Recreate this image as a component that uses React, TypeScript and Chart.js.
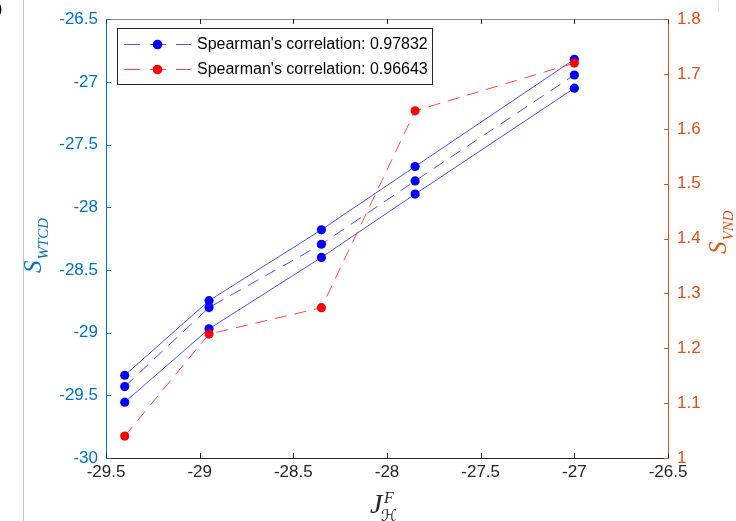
import React, { useEffect, useRef } from "react";
import { Chart, registerables } from "chart.js";

Chart.register(...registerables);

// ---- data ----
const xValues = [-29.4, -28.95, -28.35, -27.85, -27.0];
const wtcdUpper = [-29.34, -28.745, -28.18, -27.675, -26.82];
const wtcdMean = [-29.43, -28.80, -28.295, -27.79, -26.945];
const wtcdLower = [-29.555, -28.97, -28.40, -27.895, -27.05];
const vndValues = [1.04, 1.226, 1.274, 1.633, 1.72];
const legendLabels = ["Spearman's correlation: 0.97832", "Spearman's correlation: 0.96643"];

const xRange = [-29.5, -26.5];
const xStep = 0.5;
const leftRange = [-30, -26.5];
const leftStep = 0.5;
const rightRange = [1, 1.8];
const rightStep = 0.1;

const BLUE_AXIS = "#0072BD";
const ORANGE_AXIS = "#D95319";
const DARK = "#262626";
const SANS = '"Liberation Sans", Arial, Helvetica, sans-serif';
const SERIF = '"Liberation Serif", "Times New Roman", serif';

const toPoints = (ys: number[]) => xValues.map((x, i) => ({ x, y: ys[i] }));
const fmt = (v: any) => String(Number(Number(v).toFixed(3)));

const decorPlugin = {
  id: "decor",
  beforeDraw(chart: any) {
    const ctx = chart.ctx;
    ctx.save();
    ctx.fillStyle = "#ffffff";
    ctx.fillRect(0, 0, chart.width, chart.height);
    ctx.fillStyle = "#c4c4c4";
    ctx.fillRect(23, 0, 1, chart.height);
    ctx.fillStyle = "#e4e4e4";
    ctx.fillRect(718, 0, 1, 12);
    ctx.fillStyle = "#000";
    ctx.font = "16px " + SANS;
    ctx.textBaseline = "alphabetic";
    ctx.fillText(")", -3, 14);
    ctx.restore();
  },
  afterDatasetsDraw(chart: any) {
    const ctx = chart.ctx;
    const { left, right, top, bottom } = chart.chartArea;
    const xs = chart.scales.x;
    const yl = chart.scales.y;
    const yr = chart.scales.y1;
    const L = Math.round(left);
    const R = Math.round(right);
    const T = Math.round(top);
    const B = Math.round(bottom);
    ctx.save();
    // borders
    ctx.fillStyle = DARK;
    ctx.fillRect(L, B, R - L + 1, 1);
    ctx.fillStyle = "#8a8a8a";
    ctx.fillRect(L, T, R - L + 1, 1);
    ctx.fillStyle = BLUE_AXIS;
    ctx.fillRect(L, T, 1, B - T + 1);
    ctx.fillStyle = ORANGE_AXIS;
    ctx.fillRect(R, T, 1, B - T + 1);
    // inward ticks
    const tl = 5;
    ctx.fillStyle = DARK;
    xs.ticks.forEach((t: any) => {
      const px = Math.round(xs.getPixelForValue(t.value));
      ctx.fillRect(px, B - tl, 1, tl);
      ctx.fillRect(px, T, 1, tl);
    });
    ctx.fillStyle = BLUE_AXIS;
    yl.ticks.forEach((t: any) => {
      const py = Math.round(yl.getPixelForValue(t.value));
      ctx.fillRect(L, py, tl, 1);
    });
    ctx.fillStyle = ORANGE_AXIS;
    yr.ticks.forEach((t: any) => {
      const py = Math.round(yr.getPixelForValue(t.value));
      ctx.fillRect(R - tl + 1, py, tl, 1);
    });
    ctx.restore();
  },
  afterDraw(chart: any) {
    const ctx = chart.ctx;
    ctx.save();
    // legend
    const bx = 117, by = 28, bw = 315, bh = 56;
    ctx.fillStyle = "#ffffff";
    ctx.fillRect(bx, by, bw, bh);
    ctx.strokeStyle = DARK;
    ctx.lineWidth = 1;
    ctx.strokeRect(bx + 0.5, by + 0.5, bw, bh);
    const items = chart.data.datasets
      .filter((d: any) => d.legendIndex !== undefined)
      .sort((a: any, b: any) => a.legendIndex - b.legendIndex);
    items.forEach((d: any, i: number) => {
      const cy = 44 + i * 25;
      ctx.strokeStyle = d.borderColor;
      ctx.lineWidth = 1;
      ctx.setLineDash([16, 10]);
      ctx.beginPath();
      ctx.moveTo(124, cy + 0.5);
      ctx.lineTo(191, cy + 0.5);
      ctx.stroke();
      ctx.setLineDash([]);
      ctx.fillStyle = d.pointBackgroundColor;
      ctx.beginPath();
      ctx.arc(157.5, cy + 0.5, 4.8, 0, Math.PI * 2);
      ctx.fill();
      ctx.fillStyle = "#000";
      ctx.font = "16px " + SANS;
      ctx.textBaseline = "middle";
      ctx.textAlign = "left";
      ctx.fillText(d.label, 197, cy + 1);
    });
    // axis titles
    const drawRotated = (x: number, y: number, main: string, sub: string, color: string) => {
      ctx.save();
      ctx.translate(x, y);
      ctx.rotate(-Math.PI / 2);
      ctx.fillStyle = color;
      ctx.textBaseline = "alphabetic";
      ctx.textAlign = "left";
      ctx.font = "italic 25px " + SERIF;
      ctx.fillText(main, 0, 0);
      const w = ctx.measureText(main).width;
      ctx.font = "italic 15px " + SERIF;
      ctx.fillText(sub, w + 1, 7);
      ctx.restore();
    };
    drawRotated(41, 273, "S", "WTCD", BLUE_AXIS);
    drawRotated(726, 254, "S", "VND", ORANGE_AXIS);
    // x title
    ctx.fillStyle = DARK;
    ctx.textBaseline = "alphabetic";
    ctx.textAlign = "left";
    ctx.font = "italic 28px " + SERIF;
    ctx.fillText("J", 370, 513);
    ctx.font = "italic 16px " + SERIF;
    ctx.fillText("F", 384, 503);
    ctx.font = 'italic 16px "DejaVu Serif", "DejaVu Sans", serif';
    ctx.fillText("\u210B", 381, 521);
    ctx.restore();
  },
};

export default function App() {
  const canvasRef = useRef<HTMLCanvasElement | null>(null);

  useEffect(() => {
    if (!canvasRef.current) return;
    const lineBlue = "rgba(50,50,255,0.85)";
    const lineRed = "rgba(255,40,40,0.85)";
    const base = {
      showLine: true,
      borderWidth: 1,
      pointRadius: 4.6,
      pointHoverRadius: 4.6,
      pointBorderWidth: 0,
      fill: false,
      tension: 0,
    };
    const chart = new Chart(canvasRef.current, {
      type: "line",
      data: {
        datasets: [
          {
            ...base,
            label: legendLabels[1],
            legendIndex: 1,
            data: toPoints(vndValues),
            yAxisID: "y1",
            borderColor: lineRed,
            borderDash: [12, 8],
            pointBackgroundColor: "#ff0000",
            pointBorderColor: "#ff0000",
            order: 0,
          } as any,
          {
            ...base,
            data: toPoints(wtcdUpper),
            yAxisID: "y",
            borderColor: lineBlue,
            pointBackgroundColor: "#0000ff",
            pointBorderColor: "#0000ff",
            order: 1,
          },
          {
            ...base,
            label: legendLabels[0],
            legendIndex: 0,
            data: toPoints(wtcdMean),
            yAxisID: "y",
            borderColor: lineBlue,
            borderDash: [12, 8],
            pointBackgroundColor: "#0000ff",
            pointBorderColor: "#0000ff",
            order: 1,
          } as any,
          {
            ...base,
            data: toPoints(wtcdLower),
            yAxisID: "y",
            borderColor: lineBlue,
            pointBackgroundColor: "#0000ff",
            pointBorderColor: "#0000ff",
            order: 1,
          },
        ],
      },
      options: {
        animation: false,
        responsive: false,
        devicePixelRatio: 1,
        layout: { padding: { top: 17, left: 0, right: 0, bottom: 0 } },
        plugins: {
          legend: { display: false },
          tooltip: { enabled: false },
        },
        scales: {
          x: {
            type: "linear",
            min: xRange[0],
            max: xRange[1],
            ticks: {
              stepSize: xStep,
              color: DARK,
              padding: 4,
              font: { family: SANS, size: 17 },
              maxRotation: 0,
              callback: fmt,
            },
            grid: { display: false, drawTicks: false },
            border: { display: false },
            afterFit: (s: any) => {
              s.height = 63;
            },
          },
          y: {
            type: "linear",
            position: "left",
            min: leftRange[0],
            max: leftRange[1],
            ticks: {
              stepSize: leftStep,
              color: BLUE_AXIS,
              padding: 8,
              font: { family: SANS, size: 17 },
              callback: fmt,
            },
            grid: { display: false, drawTicks: false },
            border: { display: false },
            afterFit: (s: any) => {
              s.width = 106;
            },
          },
          y1: {
            type: "linear",
            position: "right",
            min: rightRange[0],
            max: rightRange[1],
            ticks: {
              stepSize: rightStep,
              color: ORANGE_AXIS,
              padding: 9,
              font: { family: SANS, size: 17 },
              callback: fmt,
            },
            grid: { display: false, drawTicks: false },
            border: { display: false },
            afterFit: (s: any) => {
              s.width = 68;
            },
          },
        },
      },
      plugins: [decorPlugin],
    });
    return () => chart.destroy();
  }, []);

  return (
    <div style={{ position: "absolute", left: 0, top: 0, width: 736, height: 521 }}>
      <canvas ref={canvasRef} width={736} height={521} />
    </div>
  );
}
